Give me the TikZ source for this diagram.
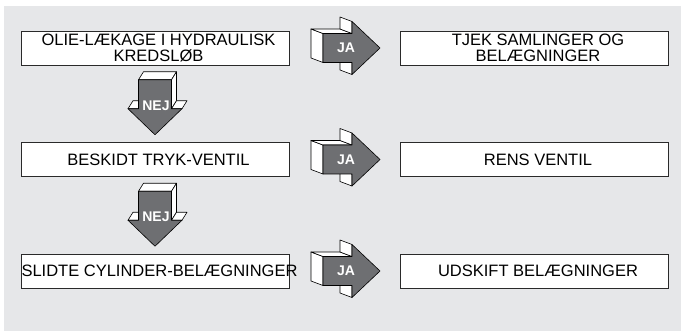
\documentclass[tikz,border=0pt]{standalone}
\usepackage{fontspec}
\setmainfont{Liberation Sans}
\usetikzlibrary{calc}
\definecolor{bg}{HTML}{E6E7E9}
\definecolor{arrowgray}{HTML}{6E6F72}
\definecolor{edge}{HTML}{2A2A2A}
\begin{document}
\begin{tikzpicture}[x=1pt,y=-1pt,
  box/.style={draw=edge, line width=0.9pt, fill=white, minimum width=268pt, minimum height=34pt, inner sep=0pt},
  boxtext/.style={font=\fontsize{16.5}{16}\selectfont, align=center, inner sep=0pt, text=black},
  face/.style={fill=white, draw=black, line width=0.6pt, line join=round},
  front/.style={fill=arrowgray, draw=black, line width=0.6pt, line join=round},
  arrowlabel/.style={font=\bfseries\fontsize{14}{14}\selectfont, text=white, inner sep=0pt}]
\useasboundingbox (0,0) rectangle (681,331);
\fill[bg] (4,6) rectangle (681,331);

% boxes
\node[box] (l1) at (155,48) {};
\node[box] (l2) at (155,159.5) {};
\node[box] (l3) at (155,271) {};
\node[box] (r1) at (534,48) {};
\node[box] (r2) at (534,159.5) {};
\node[box] (r3) at (534,271) {};

\node[boxtext] (tl1) at ([xshift=3.5pt]l1.center) {OLIE-LÆKAGE I HYDRAULISK\\KREDSLØB};
\node[boxtext] (tl2) at ([xshift=3.5pt]l2.center) {BESKIDT TRYK-VENTIL};
\node[boxtext] (tl3) at ([xshift=4.5pt]l3.center) {\makebox[0pt]{SLIDTE CYLINDER-BELÆGNINGER}};
\node[boxtext] (tr1) at ([xshift=4pt]r1.center) {TJEK SAMLINGER OG\\BELÆGNINGER};
\node[boxtext] (tr2) at ([xshift=4pt]r2.center) {RENS VENTIL};
\node[boxtext] (tr3) at ([xshift=4pt]r3.center) {UDSKIFT BELÆGNINGER};

% JA arrows (3D, pointing right)
\foreach \a/\b in {l1/r1,l2/r2,l3/r3}{
  \begin{scope}[shift={($(\a.east)!0.5!(\b.west)$)}]
    \draw[face] (-21.5,-14.5) -- (-21.5,14.5) -- (-33.5,10) -- (-33.5,-19) -- cycle;
    \draw[face] (-21.5,-14.5) -- (7.5,-14.5) -- (-4.5,-19) -- (-33.5,-19) -- cycle;
    \draw[face] (7.5,-26.5) -- (7.5,-14.5) -- (-4.5,-19) -- (-4.5,-31) -- cycle;
    \draw[face] (7.5,14.5) -- (7.5,26.5) -- (-4.5,22) -- (-4.5,10) -- cycle;
    \draw[front] (-21.5,-14.5) -- (7.5,-14.5) -- (7.5,-26.5) -- (35.5,0) -- (7.5,26.5) -- (7.5,14.5) -- (-21.5,14.5) -- cycle;
    \node[arrowlabel] at (1.5,0) {JA};
  \end{scope}
}

% NEJ arrows (3D, pointing down)
\foreach \a/\b in {l1/l2,l2/l3}{
  \begin{scope}[shift={($(\a.south)!0.5!(\b.north)$)}]
    \draw[face] (-16.5,-24) -- (16.5,-24) -- (21.5,-32) -- (-11.5,-32) -- cycle;
    \draw[face] (16.5,-24) -- (16.5,5) -- (21.5,-3) -- (21.5,-32) -- cycle;
    \draw[face] (-27,5) -- (-16.5,5) -- (-11.5,-3) -- (-22,-3) -- cycle;
    \draw[face] (16.5,5) -- (27,5) -- (32,-3) -- (21.5,-3) -- cycle;
    \draw[front] (-16.5,-24) -- (16.5,-24) -- (16.5,5) -- (27,5) -- (0,31) -- (-27,5) -- (-16.5,5) -- cycle;
    \node[arrowlabel] at (1,2) {NEJ};
  \end{scope}
}
\end{tikzpicture}
\end{document}
